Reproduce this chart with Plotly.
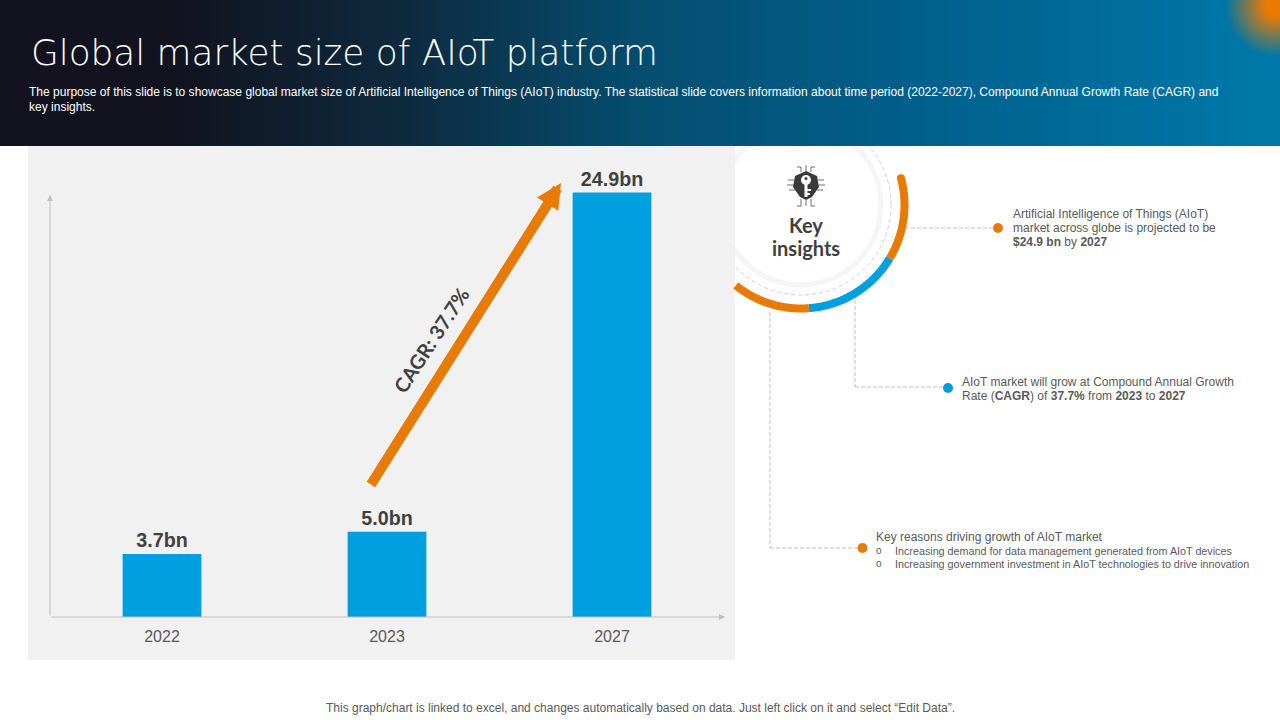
import numpy as np
import plotly.graph_objects as go

YEARS = ["2022", "2023", "2027"]
MARKET_SIZE = [3.7, 5.0, 24.9]

TITLE = "Global market size of AIoT platform"
SUBTITLE_LINES = [
    "The purpose of this slide is to showcase global market size of Artificial Intelligence of Things (AIoT) industry. The statistical slide covers information about time period (2022-2027), Compound Annual Growth Rate (CAGR) and",
    "key insights.",
]
INSIGHT_1 = [
    "Artificial Intelligence of Things (AIoT)",
    "market across globe is projected to be",
    "<b>$24.9 bn</b> by <b>2027</b>",
]
INSIGHT_2 = [
    "AIoT market will grow at Compound Annual Growth",
    "Rate (<b>CAGR</b>) of <b>37.7%</b> from <b>2023</b> to <b>2027</b>",
]
INSIGHT_3_HEAD = "Key reasons driving growth of AIoT market"
INSIGHT_3_BULLETS = [
    "Increasing demand for data management generated from AIoT devices",
    "Increasing government investment in AIoT technologies to drive innovation",
]
FOOTER = "This graph/chart is linked to excel, and changes automatically based on data. Just left click on it and select “Edit Data”."

ORANGE = "#e87b05"
BLUE = "#009fe0"
TEXT = "#595959"
DARK = "#404040"
SANS = "Liberation Sans, Arial, sans-serif"
ROUND = "Lato, sans-serif"


def header_image():
    # dark navy to teal gradient with the orange glow in the top right corner
    w, h = 1280, 146
    stops_x = [0, 170, 400, 640, 900, 1100, 1280]
    stops_c = np.array([[18, 19, 31], [18, 19, 31], [14, 42, 62], [5, 78, 112],
                        [2, 95, 138], [0, 108, 155], [0, 122, 170]], dtype=float)
    xs = np.arange(w)
    base = np.stack([np.interp(xs, stops_x, stops_c[:, i]) for i in range(3)], axis=1)
    img = np.repeat(base[None, :, :], h, axis=0)
    yy, xx = np.mgrid[0:h, 0:w]
    d = np.hypot(xx - 1275, yy - 6)
    glow = np.clip(1.25 * (1 - d / 50), 0, 1)[:, :, None]
    img = img * (1 - glow) + np.array([232, 123, 5]) * glow
    return img.astype(np.uint8)


def arc(a0, a1, cx=801, cy=205, r=103.5):
    t = np.radians(np.linspace(a0, a1, 90))
    return cx + r * np.cos(t), cy + r * np.sin(t)


def label(x, y, text, size=12, color=TEXT, family=SANS, anchor="left", **kw):
    return dict(x=x, y=y, xref="x", yref="y", text=text, showarrow=False, xanchor=anchor,
                yanchor="middle", font=dict(size=size, color=color, family=family), **kw)


def seg(x0, y0, x1, y1, color="#b0b0b0", width=0.8, dash="4px,2px"):
    return dict(type="line", xref="x", yref="y", x0=x0, y0=y0, x1=x1, y1=y1, layer="below",
                line=dict(color=color, width=width, dash=dash))


fig = go.Figure()

# page-sized axes hold the header and the decorations, bars sit on their own axes above
fig.add_trace(go.Image(z=header_image(), x0=0.5, y0=0.5, dx=1, dy=1, hoverinfo="skip",
                       xaxis="x", yaxis="y"))

for a0, a1, color in [(-15, 31, ORANGE), (31, 85.6, BLUE), (85.6, 129, ORANGE)]:
    xs, ys = arc(a0, a1)
    fig.add_trace(go.Scatter(x=xs, y=ys, mode="lines", line=dict(color=color, width=8, simplify=False),
                             hoverinfo="skip", xaxis="x", yaxis="y"))
xs, ys = arc(-15, -15)
fig.add_trace(go.Scatter(x=xs[:1], y=ys[:1], mode="markers", marker=dict(color=ORANGE, size=8),
                         hoverinfo="skip", xaxis="x", yaxis="y"))

for x, y, color in [(998, 228, ORANGE), (948, 388, BLUE), (862.5, 548, ORANGE)]:
    fig.add_trace(go.Scatter(x=[x], y=[y], mode="markers", marker=dict(color=color, size=10),
                             hoverinfo="skip", xaxis="x", yaxis="y"))

fig.add_trace(go.Bar(
    x=YEARS, y=MARKET_SIZE, marker=dict(color=BLUE, line_width=0),
    text=MARKET_SIZE, texttemplate="<b>%{y:.1f}bn</b>", textposition="outside", cliponaxis=False,
    textfont=dict(family=SANS, size=19.7, color=DARK), xaxis="x2", yaxis="y2",
    hovertemplate="%{x}: %{y}bn<extra></extra>",
))

shapes = [
    dict(type="circle", xref="x", yref="y", x0=721, y0=125, x1=881, y1=285, layer="below",
         fillcolor="white", line=dict(color="#f5f5f5", width=5)),
    dict(type="circle", xref="x", yref="y", x0=711, y0=115, x1=891, y1=295, layer="below",
         line=dict(color="#c9bfc4", width=0.8, dash="4px,3px")),
    dict(type="rect", xref="x", yref="y", x0=28, y0=146, x1=735, y1=660, layer="below",
         fillcolor="#f1f1f1", line_width=0),
    seg(905, 228, 997, 228),
    seg(855, 300, 855, 387), seg(855, 387, 947, 387),
    seg(770, 312, 770, 548), seg(770, 548, 862, 548),
]

# key insights icon: shield, key and the little circuit traces around it
shapes.append(dict(type="path", xref="x", yref="y", layer="below", fillcolor="#3a3a3a", line_width=0,
                   path="M806,171 L817,176 L819,187 L812,197 L806,200 L800,197 L793,187 L795,176 Z"))
shapes.append(dict(type="circle", xref="x", yref="y", layer="below", x0=801, y0=175, x1=811, y1=185,
                   fillcolor="white", line_width=0))
shapes.append(dict(type="circle", xref="x", yref="y", layer="below", x0=804.5, y0=177, x1=807.5, y1=180,
                   fillcolor="#3a3a3a", line_width=0))
shapes.append(dict(type="rect", xref="x", yref="y", layer="below", x0=804.5, y0=183, x1=807.5, y1=197,
                   fillcolor="white", line_width=0))
shapes.append(dict(type="rect", xref="x", yref="y", layer="below", x0=807, y0=189, x1=811, y1=191,
                   fillcolor="white", line_width=0))
shapes.append(dict(type="rect", xref="x", yref="y", layer="below", x0=807, y0=193, x1=810, y1=195,
                   fillcolor="white", line_width=0))
for x0, y0, x1, y1 in [(806, 171, 806, 165), (801, 172, 801, 167), (811, 172, 811, 167),
                       (801, 167, 797, 167), (811, 167, 815, 167),
                       (794, 180, 788, 180), (794, 185, 787, 185), (795, 190, 789, 190),
                       (818, 180, 824, 180), (819, 185, 825, 185), (817, 190, 823, 190),
                       (806, 200, 806, 206), (801, 199, 801, 206), (811, 199, 811, 206),
                       (801, 206, 797, 206), (811, 206, 815, 206)]:
    shapes.append(seg(x0, y0, x1, y1, color="#4a4a4a", dash="solid"))

annotations = [
    dict(label(29, 52, TITLE, size=36, color="white"),
         font=dict(size=35.8, color="white", family="DejaVu Sans ExtraLight, DejaVu Sans, sans-serif", weight=200)),
    label(806, 225, "<b>Key</b>", size=20, color=DARK, family=ROUND, anchor="center"),
    label(806, 248, "<b>insights</b>", size=20, color=DARK, family=ROUND, anchor="center"),
    label(431, 340, "<b>CAGR: 37.7%</b>", size=20, color=DARK, family=ROUND, anchor="center", textangle=-57),
    label(640, 708, FOOTER, anchor="center"),
]
for i, line in enumerate(SUBTITLE_LINES):
    annotations.append(label(27, 92 + 15 * i, line, size=12.03, color="white"))
for i, line in enumerate(INSIGHT_1):
    annotations.append(label(1011, 214 + 14 * i, line))
for i, line in enumerate(INSIGHT_2):
    annotations.append(label(960, 381.5 + 14 * i, line))
annotations.append(label(874, 537, INSIGHT_3_HEAD))
for i, line in enumerate(INSIGHT_3_BULLETS):
    annotations.append(label(874, 550.5 + 13 * i, "o", size=10))
    annotations.append(label(893, 550.5 + 13 * i, line, size=10.75))

# orange CAGR arrow and the two grey axis arrows
for x0, y0, x1, y1, color, width, size in [(370, 486, 561, 183, ORANGE, 10, 0.5),
                                           (50, 617, 50, 195, "#bfbfbf", 1, 1.2),
                                           (50, 617, 725, 617, "#bfbfbf", 1, 1.2)]:
    annotations.append(dict(x=x1, y=y1, ax=x0, ay=y0, xref="x", yref="y", axref="x", ayref="y",
                            text="", showarrow=True, arrowhead=2, arrowsize=size,
                            arrowwidth=width, arrowcolor=color, standoff=0))

fig.update_layout(
    width=1280, height=720, margin=dict(l=0, r=0, t=0, b=0),
    paper_bgcolor="white", plot_bgcolor="rgba(0,0,0,0)",
    showlegend=False, bargap=0.65,
    xaxis=dict(range=[0, 1280], domain=[0, 1], visible=False, showgrid=False),
    yaxis=dict(range=[720, 0], domain=[0, 1], visible=False, showgrid=False),
    xaxis2=dict(domain=[49.5 / 1280, 724.5 / 1280], anchor="y2", type="category", range=[-0.5, 2.5],
                showline=False, showgrid=False, ticks="", ticklabelstandoff=8,
                tickfont=dict(family=SANS, size=16, color=TEXT)),
    yaxis2=dict(domain=[103 / 720, 570 / 720], anchor="x2", range=[0, 27.4], visible=False,
                showgrid=False, zeroline=False),
    shapes=shapes, annotations=annotations,
)

fig.write_html("out.html", config=dict(displayModeBar=False),
               post_script="document.body.style.margin='0';")
